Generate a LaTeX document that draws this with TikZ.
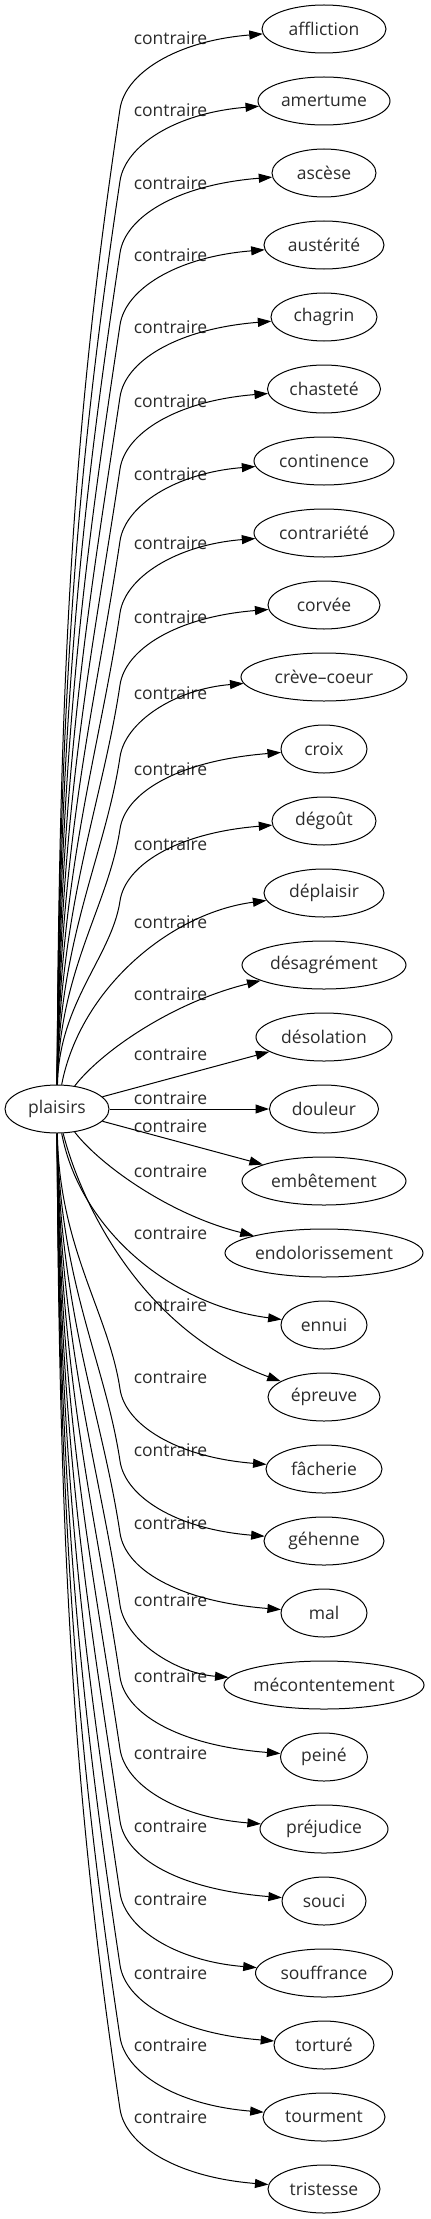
\documentclass[tikz,border=0pt]{standalone}
\usepackage{fontspec}
\newfontfamily\gfont{Open Sans}
\usetikzlibrary{arrows.meta,shapes.geometric}
\definecolor{txtc}{HTML}{2B2B2B}
\begin{document}
\begin{tikzpicture}[x=1bp,y=-1bp,
  every node/.style={font=\gfont\fontsize{17.5bp}{21bp}\selectfont, text=txtc},
  gnode/.style={draw=black, ellipse, line width=1bp, inner sep=0pt, minimum height=48bp},
  lbl/.style={inner sep=0pt},
  edge/.style={draw=black, line width=1bp, -{Triangle[length=13.5bp,width=9bp]}}]
\useasboundingbox (0,0) rectangle (430,2219);
\node[gnode, minimum width=104bp] (p) at (57,1109) {plaisirs};
\foreach \i/\t/\w/\ly in {
  0/affliction/124/38, 1/amertume/132/110, 2/ascèse/104/183, 3/austérité/120/255,
  4/chagrin/106/327, 5/chasteté/113/401, 6/continence/140/474, 7/contrariété/140/543,
  8/corvée/112/617, 9/crève–coeur/166/693, 10/croix/86/769, 11/dégoût/104/844,
  12/déplaisir/120/922, 13/désagrément/164/994, 14/désolation/136/1054, 15/douleur/109/1098,
  16/embêtement/164/1126, 17/endolorissement/198/1171, 18/ennui/86/1233, 19/épreuve/112/1305,
  20/fâcherie/116/1377, 21/géhenne/120/1450, 22/mal/86/1523, 23/mécontentement/194/1600,
  24/peiné/87/1676, 25/préjudice/128/1753, 26/souci/84/1826, 27/souffrance/137/1899,
  28/torturé/100/1973, 29/tourment/122/2045, 30/tristesse/112/2117} {
  \node[gnode, minimum width=\w bp] (n\i) at (324,{29+72*\i}) {\t};
  \node[lbl] (l\i) at (170.5,\ly) {contraire};
}
\foreach \i in {0,...,30} {
  \pgfmathsetmacro\yt{29+72*\i}
  \pgfmathtruncatemacro\u{abs(\i-15)}
  \pgfmathsetmacro\s{(\i>15) ? 1 : -1}
  \pgfmathsetmacro\By{\yt-\s*80}
  \pgfmathsetmacro\Sy{1109+\s*24}
  \pgfmathsetmacro\L{abs(\By-\Sy)}
  \pgfmathsetmacro\aay{\Sy+\s*0.45*\L}
  \pgfmathsetmacro\abx{120-0.045*\L}
  \pgfmathsetmacro\aby{\By-\s*0.3*\L}
  \pgfmathsetmacro\bay{\yt-\s*45}
  \pgfmathsetmacro\bby{\yt-\s*12}
  \pgfmathsetmacro\cay{1109+\s*56}
  \pgfmathsetmacro\cby{\yt-\s*38}
  \pgfmathsetmacro\day{1109+\s*120}
  \pgfmathsetmacro\dby{\yt-\s*20}
  \ifnum\u<2
    \draw[edge] (p) -- (n\i);
  \else\ifnum\u=2
    \draw[edge] (p) .. controls (100,\cay) and (170,\cby) .. (n\i);
  \else\ifnum\u=3
    \draw[edge] (p) .. controls (80,\day) and (170,\dby) .. (n\i);
  \else\ifnum\i=19
    \draw[edge] (p) .. controls (80,1200) and (140,1330) .. (n\i);
  \else
    \draw[edge] (p) .. controls (59,\aay) and (\abx,\aby) .. (120,\By)
      .. controls (125,\bay) and (175,\bby) .. (n\i);
  \fi\fi\fi\fi
}
\end{tikzpicture}
\end{document}
